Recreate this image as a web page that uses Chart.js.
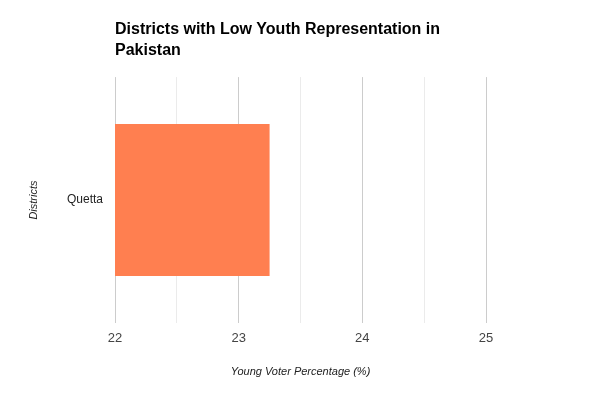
<!DOCTYPE html>
<html>
<head>
<meta charset="utf-8">
<script src="https://cdn.jsdelivr.net/npm/chart.js@4"></script>
<style>
  body { margin: 0; background: #fff; }
  #wrap { width: 600px; height: 400px; }
</style>
</head>
<body>
<div id="wrap"><canvas id="myChart" width="600" height="400"></canvas></div>
<script>
// data
const districts = ['Quetta'];
const youngVoterPct = [23.25];
const titleLines = ['Districts with Low Youth Representation in', 'Pakistan'];
const xTitle = 'Young Voter Percentage (%)';
const yTitle = 'Districts';
const xMin = 22, xMax = 25;

const FONT = "'Liberation Sans', Arial, sans-serif";

const data = {
    labels: districts,
    datasets: [{
        label: yTitle,
        data: youngVoterPct,
        backgroundColor: '#ff7f50',
        borderWidth: 0,
        categoryPercentage: 1,
        barPercentage: 0.618,
    }]
};

const config = {
    type: 'bar',
    data,
    options: {
        indexAxis: 'y',
        responsive: false,
        animation: false,
        layout: { padding: { top: 0, left: 0, bottom: 0, right: 114 } },
        scales: {
            x: {
                min: xMin,
                max: xMax,
                border: { display: false },
                grid: {
                    drawTicks: false,
                    // whole numbers darker, halves lighter
                    color: (ctx) => (ctx.tick && ctx.tick.value % 1 === 0) ? '#cccccc' : '#ebebeb',
                },
                ticks: {
                    stepSize: 0.5,
                    padding: 8,
                    color: '#444',
                    font: { family: FONT, size: 13 },
                    callback: (v) => (v % 1 === 0 ? v : ''),
                },
                title: {
                    display: true,
                    text: xTitle,
                    color: '#222',
                    font: { family: FONT, size: 11, style: 'italic' },
                    padding: { top: 0, bottom: 21 },
                },
                afterFit(s) { s.height = 77; s.paddingLeft = 0; s.paddingRight = 0; },
            },
            y: {
                border: { display: false },
                grid: { display: false, drawTicks: false },
                ticks: {
                    padding: 12,
                    color: '#222',
                    font: { family: FONT, size: 12 },
                },
                title: {
                    display: true,
                    text: yTitle,
                    color: '#222',
                    font: { family: FONT, size: 11, style: 'italic' },
                    padding: { top: 27, bottom: 0 },
                },
                afterFit(s) { s.width = 115; },
            }
        },
        plugins: {
            legend: { display: false },
            tooltip: { enabled: false },
            title: {
                display: true,
                text: titleLines,
                align: 'start',
                fullSize: false,
                color: '#000',
                font: { family: FONT, size: 16, weight: 'bold', lineHeight: 1.3 },
                padding: { top: 19, bottom: 16.5 },
            }
        }
    }
};

const myChart = new Chart(document.getElementById('myChart'), config);
</script>
</body>
</html>
